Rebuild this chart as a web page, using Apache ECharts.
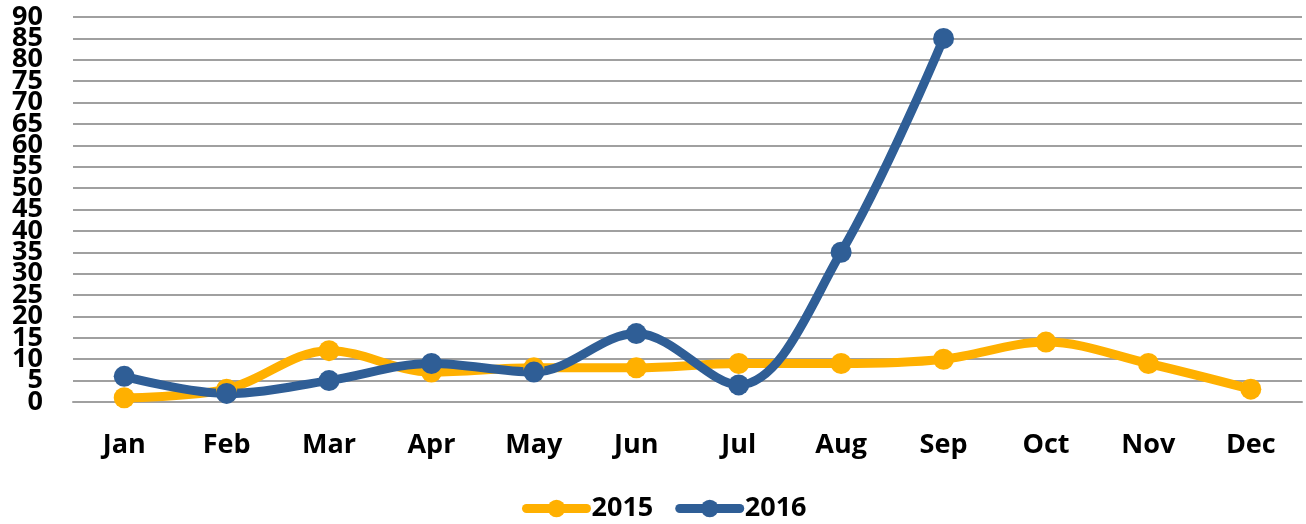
<!DOCTYPE html>
<html>
<head>
<meta charset="utf-8">
<script src="https://cdn.jsdelivr.net/npm/echarts@6/dist/echarts.min.js"></script>
<style>
  html, body { margin: 0; padding: 0; background: #fff; }
  #main { width: 1306px; height: 524px; }
</style>
</head>
<body>
<div id="main"></div>
<script>
// months on x axis
const months = ['Jan', 'Feb', 'Mar', 'Apr', 'May', 'Jun', 'Jul', 'Aug', 'Sep', 'Oct', 'Nov', 'Dec']
const values2015 = [1, 3, 12, 7, 8, 8, 9, 9, 10, 14, 9, 3]
const values2016 = [6, 2, 5, 9, 7, 16, 4, 35, 85]
const seriesNames = ['2015', '2016']
const yMin = 0
const yMax = 90

const chart = echarts.init(document.getElementById('main'))
const font = 'Open Sans'
const labelStyle = { fontFamily: font, fontWeight: 'bold', fontSize: 27, color: '#000', margin: 30 }

function lineSeries(name, data, color) {
  return {
    name: name,
    type: 'line',
    data: data,
    smooth: 0.35,
    symbol: 'circle',
    symbolSize: 21,
    yAxisIndex: 0,
    lineStyle: { width: 9, color: color, cap: 'round' },
    itemStyle: { color: color }
  }
}

chart.setOption({
  animation: false,
  color: ['#FFB000', '#2F5E96'],
  grid: { left: 73, right: 4, top: 17, bottom: 122 },
  legend: {
    left: 522,
    top: 495,
    padding: 0,
    itemWidth: 60,
    itemHeight: 22,
    itemGap: 22,
    lineStyle: { width: 9, cap: 'round' },
    textStyle: { fontFamily: font, fontWeight: 'bold', fontSize: 27, lineHeight: 22, color: '#000' },
    data: seriesNames
  },
  xAxis: {
    type: 'category',
    data: months,
    boundaryGap: true,
    axisLine: { lineStyle: { color: '#A0A0A0', width: 2 } },
    axisTick: { show: false },
    axisLabel: labelStyle
  },
  yAxis: [
    {
      // inner ticks 5..85 (labels are packed tight, so the ends come from the second axis)
      type: 'value',
      position: 'left',
      min: yMin,
      max: yMax,
      interval: 5,
      axisLine: { show: false },
      axisTick: { show: false },
      splitLine: { lineStyle: { color: '#A0A0A0', width: 2 } },
      axisLabel: Object.assign({}, labelStyle, { showMinLabel: false, showMaxLabel: false, hideOverlap: false })
    },
    {
      type: 'value',
      position: 'left',
      offset: 0,
      min: yMin,
      max: yMax,
      interval: yMax - yMin,
      axisLine: { show: false },
      axisTick: { show: false },
      splitLine: { show: false },
      axisLabel: labelStyle
    }
  ],
  series: [
    lineSeries(seriesNames[0], values2015, '#FFB000'),
    lineSeries(seriesNames[1], values2016, '#2F5E96')
  ]
})
</script>
</body>
</html>
